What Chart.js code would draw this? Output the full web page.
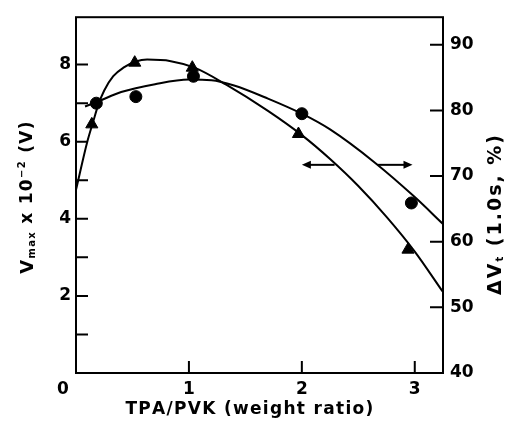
<!DOCTYPE html>
<html>
<head>
<meta charset="utf-8">
<script src="https://cdn.jsdelivr.net/npm/chart.js@4.4.1/dist/chart.umd.min.js"></script>
<style>
  html, body { margin: 0; padding: 0; background: #fff; }
</style>
</head>
<body>
<canvas id="chart" width="508" height="426"></canvas>
<script>
// measured points: triangles on the left axis, circles on the right axis
const triRatio = [0.14, 0.52, 1.03, 1.97, 2.94];
const triVmax = [6.45, 8.05, 7.92, 6.2, 3.2];
const dotRatio = [0.18, 0.53, 1.04, 2.0, 2.97];
const dotDeltaV = [81.1, 82.1, 85.2, 79.5, 65.9];

// hand-drawn fit curves
const triFitX = [0, 0.1, 0.15, 0.2, 0.25, 0.33, 0.42, 0.53, 0.63, 0.84, 1.05, 1.33, 1.7, 2.0, 2.25, 2.5, 2.75, 3.0, 3.25];
const triFitY = [4.75, 6.0, 6.5, 6.98, 7.33, 7.7, 7.92, 8.08, 8.13, 8.09, 7.92, 7.48, 6.8, 6.17, 5.55, 4.85, 4.05, 3.15, 2.1];
const dotFitX = [0.08, 0.2, 0.4, 0.7, 1.0, 1.2, 1.4, 1.7, 2.0, 2.25, 2.65, 3.0, 3.25];
const dotFitY = [80.6, 81.4, 82.8, 84.0, 84.7, 84.6, 83.8, 81.8, 79.5, 77.1, 72.0, 66.8, 62.7];

const xTickMarks = [1, 2, 3];
const leftTickMarks = [1, 2, 3, 4, 5, 6, 7, 8];
const leftTickLabels = [2, 4, 6, 8];
const rightTickMarks = [50, 60, 70, 80, 90];

// arrows: y on the left scale, x from tail to tip
const arrowY = 5.4;
const leftArrowX = [2.29, 2.0];
const rightArrowX = [2.67, 2.98];

const FONT = '"DejaVu Sans", sans-serif';

function pts(xs, ys) {
  return xs.map((x, i) => ({ x: x, y: ys[i] }));
}

// draws a run of text pieces (sub/superscripts) centred on cx, cy
function drawRich(ctx, parts, cx, cy, rot, spacing) {
  ctx.save();
  ctx.translate(cx, cy);
  ctx.rotate(rot);
  ctx.textBaseline = 'middle';
  ctx.fillStyle = '#000';
  const widthOf = p => {
    ctx.font = 'bold ' + p.size + 'px ' + FONT;
    let w = 0;
    for (const ch of p.t) w += ctx.measureText(ch).width + spacing;
    return w;
  };
  let total = 0;
  parts.forEach(p => { total += widthOf(p); });
  let x = -total / 2;
  parts.forEach(p => {
    ctx.font = 'bold ' + p.size + 'px ' + FONT;
    for (const ch of p.t) {
      ctx.fillText(ch, x, p.dy || 0);
      x += ctx.measureText(ch).width + spacing;
    }
  });
  ctx.restore();
}

function arrow(ctx, x0, x1, y) {
  const dir = Math.sign(x1 - x0);
  ctx.beginPath();
  ctx.moveTo(x0, y);
  ctx.lineTo(x1 - dir * 6, y);
  ctx.stroke();
  ctx.beginPath();
  ctx.moveTo(x1, y);
  ctx.lineTo(x1 - dir * 9, y - 4);
  ctx.lineTo(x1 - dir * 9, y + 4);
  ctx.closePath();
  ctx.fill();
}

const frame = {
  id: 'frame',
  afterDraw(chart) {
    const ctx = chart.ctx;
    const a = chart.chartArea;
    const sx = chart.scales.x, yl = chart.scales.yL, yr = chart.scales.yR;
    ctx.save();
    ctx.strokeStyle = '#000';
    ctx.fillStyle = '#000';
    ctx.lineWidth = 2;
    ctx.strokeRect(a.left, a.top, a.right - a.left, a.bottom - a.top);

    ctx.beginPath();
    xTickMarks.forEach(v => {
      const p = sx.getPixelForValue(v);
      ctx.moveTo(p, a.bottom);
      ctx.lineTo(p, a.bottom - 12);
    });
    leftTickMarks.forEach(v => {
      const p = yl.getPixelForValue(v);
      ctx.moveTo(a.left, p);
      ctx.lineTo(a.left + 12, p);
    });
    rightTickMarks.forEach(v => {
      const p = yr.getPixelForValue(v);
      ctx.moveTo(a.right, p);
      ctx.lineTo(a.right - 13, p);
    });
    ctx.stroke();

    const ay = yl.getPixelForValue(arrowY);
    arrow(ctx, sx.getPixelForValue(leftArrowX[0]), sx.getPixelForValue(leftArrowX[1]), ay);
    arrow(ctx, sx.getPixelForValue(rightArrowX[0]), sx.getPixelForValue(rightArrowX[1]), ay);

    // the shared origin label sits left of the corner
    ctx.font = 'bold 17px ' + FONT;
    ctx.textAlign = 'center';
    ctx.textBaseline = 'middle';
    ctx.fillText('0', sx.getPixelForValue(0) - 13, a.bottom + 17);
    ctx.restore();

    drawRich(ctx, [{ t: 'TPA/PVK (weight ratio)', size: 17 }], 250, 410, 0, 1.3);
    drawRich(ctx, [
      { t: 'V', size: 18 },
      { t: 'max', size: 10, dy: 4 },
      { t: ' x 10', size: 17 },
      { t: '\u22122', size: 10, dy: -6 },
      { t: ' (V)', size: 17 }
    ], 28, 197, -Math.PI / 2, 1.3);
    drawRich(ctx, [
      { t: '\u0394V', size: 19 },
      { t: 't', size: 10, dy: 4 },
      { t: ' (1.0s, %)', size: 19 }
    ], 496, 214, -Math.PI / 2, 2);
  }
};

const tickFont = { family: FONT, size: 17, weight: 'bold' };

new Chart(document.getElementById('chart'), {
  type: 'scatter',
  data: {
    datasets: [
      {
        data: pts(triRatio, triVmax), yAxisID: 'yL',
        pointStyle: 'triangle', pointRadius: 7, pointBackgroundColor: '#000', pointBorderColor: '#000'
      },
      {
        data: pts(dotRatio, dotDeltaV), yAxisID: 'yR',
        pointStyle: 'circle', pointRadius: 6, pointBackgroundColor: '#000', pointBorderColor: '#000'
      },
      {
        type: 'line', data: pts(triFitX, triFitY), yAxisID: 'yL',
        borderColor: '#000', borderWidth: 2, pointRadius: 0, cubicInterpolationMode: 'monotone', fill: false
      },
      {
        type: 'line', data: pts(dotFitX, dotFitY), yAxisID: 'yR',
        borderColor: '#000', borderWidth: 2, pointRadius: 0, cubicInterpolationMode: 'monotone', fill: false
      }
    ]
  },
  options: {
    responsive: false,
    animation: false,
    layout: { padding: { top: 14, left: 0, right: 0, bottom: 0 } },
    plugins: { legend: { display: false }, tooltip: { enabled: false } },
    scales: {
      x: {
        type: 'linear', position: 'bottom', min: 0, max: 3.25,
        grid: { display: false, drawTicks: false }, border: { display: false },
        ticks: {
          stepSize: 1, includeBounds: false, color: '#000', font: tickFont, padding: 6,
          callback: v => v === 0 ? '' : String(v)
        },
        afterFit(s) { s.height = 53; }
      },
      yL: {
        type: 'linear', position: 'left', min: 0, max: 9.23,
        grid: { display: false, drawTicks: false }, border: { display: false },
        ticks: {
          stepSize: 1, includeBounds: false, color: '#000', font: tickFont, padding: 5,
          callback: v => leftTickLabels.includes(v) ? String(v) : ''
        },
        afterFit(s) { s.width = 76; }
      },
      yR: {
        type: 'linear', position: 'right', min: 40, max: 94.2,
        grid: { display: false, drawTicks: false }, border: { display: false },
        ticks: { stepSize: 10, includeBounds: false, color: '#000', font: tickFont, padding: 7 },
        afterFit(s) { s.width = 65; }
      }
    }
  },
  plugins: [frame]
});
</script>
</body>
</html>
